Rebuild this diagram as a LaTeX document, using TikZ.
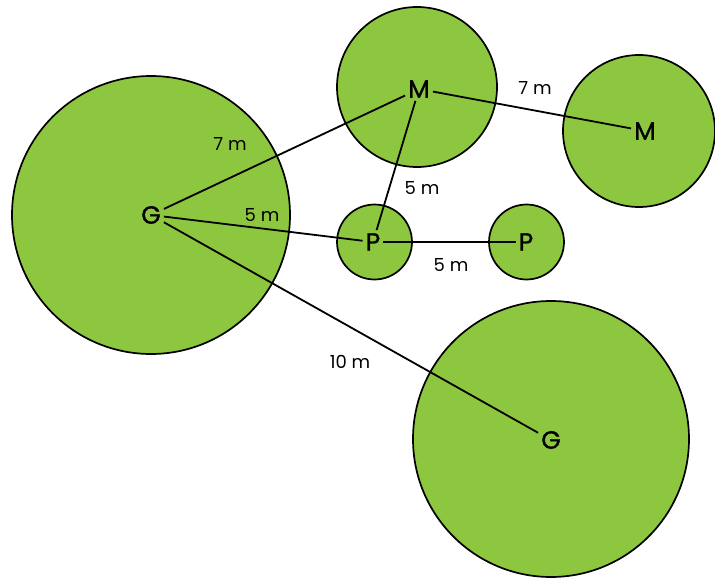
\documentclass[tikz,border=0pt]{standalone}
\usepackage{fontspec}
\setmainfont{Poppins}
\newfontfamily\letterfont[FakeBold=1.2]{Poppins}
\definecolor{leaf}{HTML}{8DC63F}
\begin{document}
\begin{tikzpicture}[x=1pt,y=-1pt,
  disc/.style={circle, draw=black, line width=1.7pt, fill=leaf, inner sep=0pt},
  lbl/.style={inner sep=3pt, font=\letterfont\fontsize{25}{25}\selectfont},
  dist/.style={inner sep=0pt, font=\fontsize{18}{18}\selectfont},
  link/.style={line width=1.8pt}]
\useasboundingbox (0,0) rectangle (715,578);
% circles
\node[disc, minimum size=278pt] (cG1) at (151,215) {};
\node[disc, minimum size=160pt] (cM1) at (417,87) {};
\node[disc, minimum size=152pt] (cM2) at (639,131) {};
\node[disc, minimum size=75pt] (cP1) at (374.5,242) {};
\node[disc, minimum size=75pt] (cP2) at (526.5,242) {};
\node[disc, minimum size=276pt] (cG2) at (551,439) {};
% labels
\node[lbl] (G1) at (151,215) {G};
\node[lbl] (M1) at (419,89) {M};
\node[lbl] (M2) at (645,131) {M};
\node[lbl] (P1) at (373,242) {P};
\node[lbl] (P2) at (526,242) {P};
\node[lbl] (G2) at (551,440) {G};
% links
\draw[link] (G1) -- (M1);
\draw[link] (G1) -- (P1);
\draw[link] (G1) -- (G2);
\draw[link] (M1) -- (P1);
\draw[link] (M1) -- (M2);
\draw[link] (P1) -- (P2);
% distances
\node[dist] (d1) at (230,144) {7 m};
\node[dist] (d2) at (262,215) {5 m};
\node[dist] (d3) at (350,362) {10 m};
\node[dist] (d4) at (422,188) {5 m};
\node[dist] (d5) at (535,88) {7 m};
\node[dist] (d6) at (451,265) {5 m};
\end{tikzpicture}
\end{document}
